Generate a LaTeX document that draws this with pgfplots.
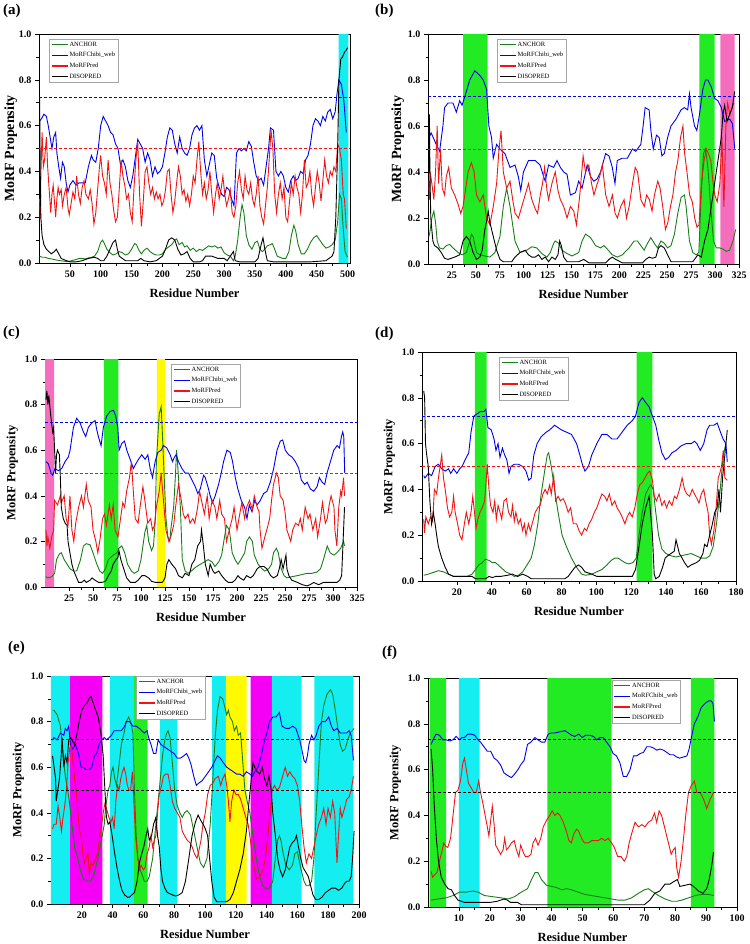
\documentclass[border=0pt]{standalone}
\usepackage{pgfplots}
\pgfplotsset{compat=1.18}
\usepackage{fontspec}
\setmainfont{Liberation Serif}
\definecolor{ancg}{RGB}{25,125,25}
\definecolor{mblue}{RGB}{0,0,240}
\definecolor{mred}{RGB}{240,20,20}
\definecolor{shcyan}{RGB}{20,238,240}
\definecolor{shgreen}{RGB}{35,235,35}
\definecolor{shpink}{RGB}{245,110,190}
\definecolor{shmag}{RGB}{245,0,245}
\definecolor{shyel}{RGB}{255,250,0}
\pgfplotsset{
  morf/.style={
    scale only axis, anchor=south west, ymin=0, ymax=1,
    ytick={0,0.2,0.4,0.6,0.8,1},
    minor y tick num=1, minor x tick num=1,
    tick align=outside, tick pos=left,
    major tick length=4pt, minor tick length=2.5pt,
    tick style={black, line width=0.6pt},
    axis line style={line width=0.8pt},
    ticklabel style={font=\bfseries\fontsize{10}{12}\selectfont},
    yticklabel style={/pgf/number format/.cd, fixed, fixed zerofill, precision=1},
    /pgf/number format/assume math mode=true,
    xlabel={Residue Number}, ylabel={MoRF Propensity},
    xlabel style={font=\bfseries\fontsize{12.5}{14}\selectfont, yshift=-5pt},
    ylabel style={font=\bfseries\fontsize{12.5}{14}\selectfont},
    every axis plot/.append style={line width=0.9pt},
    legend image code/.code={\draw[#1, line width=1.4pt] (0pt,0pt) -- (16pt,0pt);},
    legend style={anchor=north west, font=\fontsize{6.5}{7}\selectfont, draw=gray!70, line width=0.4pt,
      inner xsep=2pt, inner ysep=1.5pt, row sep=3pt, cells={anchor=west},
      nodes={inner sep=1pt, text height=4.5pt, text depth=1.2pt}},
  },
  shade/.style={fill=#1, draw=none, forget plot},
  thr/.style={draw=#1, dash pattern=on 3pt off 2pt, line width=0.9pt, forget plot},
}
\begin{document}
\begin{tikzpicture}
\useasboundingbox (0,0) rectangle (749pt,-944pt);
\node[anchor=north west, inner sep=0pt, font=\bfseries\fontsize{15}{15}\selectfont] at (3pt,-4pt) {(a)};
\node[anchor=north west, inner sep=0pt, font=\bfseries\fontsize{15}{15}\selectfont] at (375pt,-4pt) {(b)};
\node[anchor=north west, inner sep=0pt, font=\bfseries\fontsize{15}{15}\selectfont] at (3pt,-326pt) {(c)};
\node[anchor=north west, inner sep=0pt, font=\bfseries\fontsize{15}{15}\selectfont] at (375pt,-327pt) {(d)};
\node[anchor=north west, inner sep=0pt, font=\bfseries\fontsize{15}{15}\selectfont] at (8pt,-641pt) {(e)};
\node[anchor=north west, inner sep=0pt, font=\bfseries\fontsize{15}{15}\selectfont] at (382pt,-646pt) {(f)};

% ---------------- (a)
\begin{axis}[morf, at={(39pt,-263pt)}, width=311pt, height=229pt,
  xmin=0, xmax=504, xtick={50,100,...,500},
  ylabel style={font=\bfseries\fontsize{14}{16}\selectfont, yshift=-5pt},
  legend style={at={(0.032,0.978)}}]
\addplot[shade=shcyan] coordinates {(485.5,0)(485.5,1)(501.5,1)(501.5,0)} \closedcycle;
\addplot[ancg] coordinates {(1,0.03)(5,0.025)(10,0.025)(15,0.02)(20,0.018)(25,0.015)(30,0.012)(35,0.01)(40,0.008)(45,0.006)(50,0.008)(55,0.012)(60,0.015)(65,0.02)(70,0.02)(75,0.018)(80,0.022)(85,0.025)(90,0.03)(95,0.05)(100,0.09)(103,0.1)(106,0.085)(110,0.06)(115,0.045)(120,0.035)(125,0.04)(130,0.05)(135,0.045)(140,0.035)(145,0.04)(150,0.06)(155,0.085)(158,0.08)(162,0.055)(166,0.04)(170,0.055)(175,0.065)(180,0.05)(185,0.04)(190,0.035)(195,0.035)(200,0.04)(205,0.06)(210,0.07)(215,0.08)(220,0.1)(223,0.105)(227,0.08)(232,0.09)(236,0.07)(240,0.075)(245,0.055)(250,0.065)(255,0.05)(260,0.06)(265,0.055)(270,0.065)(275,0.075)(280,0.07)(285,0.075)(290,0.065)(295,0.07)(300,0.045)(305,0.035)(310,0.03)(315,0.01)(318,0.03)(322,0.1)(326,0.2)(329,0.255)(332,0.22)(336,0.12)(340,0.08)(345,0.06)(350,0.09)(354,0.095)(358,0.06)(362,0.05)(366,0.06)(370,0.075)(375,0.08)(378,0.085)(382,0.06)(386,0.03)(390,0.025)(395,0.02)(400,0.02)(405,0.05)(409,0.12)(413,0.165)(416,0.14)(420,0.08)(425,0.04)(430,0.04)(435,0.06)(440,0.09)(445,0.11)(450,0.12)(455,0.1)(460,0.08)(465,0.065)(470,0.07)(475,0.08)(480,0.1)(484,0.18)(487,0.3)(490,0.28)(493,0.15)(496,0.05)(500,0.025)};
\addplot[mblue] coordinates {(1,0.62)(4,0.63)(8,0.65)(12,0.64)(15,0.6)(18,0.55)(21,0.5)(24,0.55)(27,0.57)(29,0.48)(32,0.42)(35,0.37)(38,0.44)(41,0.42)(44,0.35)(47,0.31)(50,0.34)(55,0.36)(60,0.34)(65,0.35)(70,0.35)(75,0.35)(80,0.42)(85,0.47)(88,0.45)(92,0.44)(96,0.5)(100,0.6)(104,0.64)(108,0.62)(112,0.6)(116,0.57)(120,0.56)(124,0.52)(128,0.5)(132,0.43)(136,0.45)(140,0.42)(144,0.36)(148,0.33)(152,0.38)(156,0.46)(160,0.54)(164,0.52)(168,0.5)(172,0.44)(176,0.48)(180,0.45)(184,0.38)(188,0.42)(192,0.39)(196,0.4)(200,0.42)(204,0.48)(208,0.55)(212,0.59)(216,0.58)(220,0.52)(224,0.48)(228,0.55)(232,0.5)(236,0.48)(240,0.47)(244,0.5)(248,0.56)(252,0.59)(256,0.6)(260,0.58)(264,0.6)(268,0.45)(272,0.38)(276,0.43)(280,0.48)(284,0.47)(288,0.37)(292,0.33)(296,0.3)(300,0.29)(304,0.33)(308,0.32)(312,0.28)(316,0.25)(320,0.48)(324,0.5)(328,0.49)(332,0.5)(336,0.49)(340,0.53)(344,0.51)(348,0.44)(352,0.38)(356,0.36)(360,0.37)(364,0.34)(368,0.42)(372,0.5)(375,0.59)(380,0.58)(384,0.4)(388,0.38)(392,0.4)(396,0.38)(400,0.33)(404,0.31)(408,0.36)(412,0.38)(416,0.36)(420,0.37)(424,0.4)(428,0.39)(432,0.45)(436,0.47)(440,0.52)(444,0.6)(448,0.63)(452,0.62)(456,0.6)(460,0.64)(464,0.62)(468,0.66)(472,0.67)(476,0.63)(480,0.66)(483,0.74)(486,0.8)(490,0.78)(494,0.71)(498,0.57)};
\addplot[mred] coordinates {(1,0.28)(2,0.19)(3,0.38)(5,0.57)(7,0.42)(9,0.45)(12,0.55)(14,0.42)(17,0.3)(19,0.22)(21,0.3)(23,0.34)(25,0.27)(27,0.2)(29,0.28)(31,0.33)(33,0.3)(36,0.32)(38,0.25)(41,0.3)(44,0.33)(47,0.24)(49,0.21)(52,0.26)(55,0.31)(58,0.28)(61,0.38)(64,0.3)(67,0.26)(70,0.33)(73,0.36)(76,0.3)(80,0.28)(83,0.32)(86,0.26)(89,0.17)(92,0.22)(95,0.32)(98,0.42)(100,0.47)(103,0.38)(106,0.35)(109,0.3)(112,0.45)(115,0.35)(118,0.3)(121,0.23)(124,0.18)(127,0.2)(130,0.32)(133,0.45)(136,0.38)(139,0.34)(142,0.28)(145,0.3)(148,0.22)(151,0.18)(154,0.33)(157,0.45)(160,0.53)(163,0.3)(166,0.16)(169,0.27)(172,0.4)(175,0.42)(178,0.35)(181,0.3)(184,0.33)(187,0.28)(190,0.31)(193,0.28)(196,0.3)(199,0.25)(202,0.27)(205,0.32)(208,0.4)(211,0.41)(214,0.3)(217,0.22)(220,0.27)(223,0.35)(226,0.42)(229,0.38)(232,0.3)(235,0.32)(238,0.27)(241,0.3)(244,0.25)(247,0.3)(250,0.38)(253,0.35)(256,0.45)(259,0.53)(262,0.4)(265,0.3)(268,0.35)(271,0.28)(274,0.32)(277,0.4)(280,0.3)(283,0.22)(286,0.3)(289,0.35)(292,0.28)(295,0.32)(298,0.38)(301,0.3)(304,0.25)(307,0.28)(310,0.32)(313,0.22)(316,0.2)(319,0.25)(322,0.35)(325,0.4)(328,0.32)(331,0.28)(334,0.38)(337,0.32)(340,0.3)(343,0.35)(346,0.28)(349,0.25)(352,0.3)(355,0.38)(358,0.25)(361,0.2)(364,0.17)(367,0.25)(370,0.33)(373,0.45)(376,0.58)(379,0.5)(382,0.3)(385,0.22)(388,0.3)(391,0.35)(394,0.28)(397,0.33)(400,0.2)(403,0.18)(406,0.27)(409,0.35)(412,0.3)(415,0.38)(418,0.33)(421,0.3)(424,0.22)(427,0.3)(430,0.45)(433,0.33)(436,0.35)(439,0.4)(442,0.3)(445,0.25)(448,0.33)(451,0.4)(454,0.35)(457,0.27)(460,0.36)(463,0.45)(466,0.38)(469,0.35)(472,0.4)(475,0.38)(478,0.42)(481,0.4)(484,0.52)(487,0.5)(490,0.45)(493,0.3)(495,0.28)(498,0.15)};
\addplot[black] coordinates {(1,0.72)(2,0.4)(3,0.2)(5,0.12)(8,0.08)(12,0.06)(16,0.05)(20,0.04)(25,0.05)(28,0.06)(32,0.04)(36,0.02)(40,0.015)(45,0.01)(50,0.005)(60,0.005)(70,0.01)(80,0.02)(90,0.025)(95,0.02)(100,0.01)(105,0.01)(110,0.03)(115,0.06)(120,0.09)(124,0.1)(127,0.06)(130,0.03)(135,0.02)(140,0.01)(150,0.01)(160,0.01)(165,0.02)(170,0.01)(180,0.005)(190,0.01)(200,0.03)(205,0.06)(210,0.1)(215,0.11)(220,0.1)(225,0.06)(230,0.035)(235,0.04)(240,0.05)(245,0.02)(250,0.005)(260,0.005)(265,0.01)(270,0.03)(280,0.03)(290,0.02)(300,0.02)(305,0.01)(310,0.03)(315,0.05)(318,0.01)(325,0.005)(350,0.005)(355,0.02)(360,0.08)(363,0.11)(366,0.06)(370,0.01)(380,0.005)(400,0.005)(440,0.005)(465,0.01)(470,0.02)(475,0.03)(478,0.05)(481,0.2)(484,0.5)(486,0.8)(489,0.89)(492,0.9)(495,0.92)(498,0.93)(500,0.94)};
\addplot[thr=mblue] coordinates {(0,0.725)(504,0.725)};
\addplot[thr=mred] coordinates {(0,0.5)(504,0.5)};
\legend{ANCHOR,MoRFChibi\_web,MoRFPred,DISOPRED}
\end{axis}

% ---------------- (b)
\begin{axis}[morf, at={(428pt,-264pt)}, width=311pt, height=230pt,
  xmin=0, xmax=325, xtick={25,50,...,325},
  ylabel style={font=\bfseries\fontsize{14}{16}\selectfont, yshift=-3pt},
  legend style={at={(0.222,0.978)}}]
\addplot[shade=shgreen] coordinates {(36.6,0)(36.6,1)(62.3,1)(62.3,0)} \closedcycle;
\addplot[shade=shgreen] coordinates {(283.7,0)(283.7,1)(299.5,1)(299.5,0)} \closedcycle;
\addplot[shade=shpink] coordinates {(305.5,0)(305.5,1)(320.5,1)(320.5,0)} \closedcycle;
\addplot[ancg] coordinates {(1,0.12)(2,0.14)(4,0.2)(6.1,0.23)(7.9,0.18)(9.6,0.1)(12,0.07)(15.6,0.065)(19.1,0.08)(22.6,0.085)(26.1,0.07)(31.4,0.05)(35.6,0.04)(40.1,0.05)(43.6,0.1)(45.4,0.13)(47.1,0.12)(50.6,0.05)(54.2,0.04)(59.4,0.035)(64.7,0.03)(69.9,0.05)(75.2,0.12)(78.7,0.25)(82.2,0.33)(85.7,0.25)(90.9,0.1)(96.2,0.05)(103.2,0.06)(108.5,0.075)(113.7,0.07)(119,0.045)(124.3,0.03)(127.8,0.05)(131.3,0.09)(133,0.1)(136.5,0.09)(140,0.06)(145.3,0.045)(150.6,0.035)(157.5,0.05)(161,0.1)(164.6,0.13)(169.8,0.115)(175.1,0.08)(180.3,0.07)(183.8,0.08)(187.3,0.065)(192.6,0.04)(197.8,0.03)(203.1,0.04)(210.1,0.07)(215.4,0.1)(218.9,0.1)(222.4,0.08)(225.9,0.06)(229.4,0.09)(232.9,0.115)(236.4,0.09)(239.9,0.07)(243.4,0.1)(246.9,0.09)(250.4,0.07)(253.9,0.08)(257.5,0.13)(261,0.22)(264.5,0.29)(268,0.3)(269.7,0.25)(273.2,0.1)(276.7,0.05)(280.2,0.04)(283,0.05)(285.5,0.3)(287.9,0.48)(290,0.5)(292.5,0.42)(295.3,0.25)(298.4,0.1)(301.2,0.07)(304.7,0.07)(308.2,0.065)(311.7,0.055)(315.2,0.06)(318.7,0.1)(321.5,0.15)};
\addplot[mblue] coordinates {(1,0.55)(3.3,0.57)(8.6,0.52)(12.1,0.49)(15.6,0.6)(17.3,0.68)(20.9,0.7)(26.1,0.7)(29.6,0.66)(33.1,0.71)(35.6,0.69)(40.1,0.75)(43.6,0.8)(48.9,0.84)(54.1,0.82)(57.7,0.8)(61.2,0.76)(63.6,0.6)(66.4,0.55)(68.2,0.46)(71.7,0.52)(75.2,0.5)(80.4,0.48)(85.7,0.42)(90.9,0.43)(94.4,0.38)(96.9,0.32)(99.7,0.4)(105,0.45)(112,0.45)(117.2,0.43)(120.8,0.38)(122.5,0.36)(126,0.43)(131.3,0.42)(134.8,0.45)(138.3,0.42)(141.8,0.4)(145.3,0.39)(148.8,0.3)(154.1,0.31)(157.5,0.36)(161,0.33)(166.3,0.43)(169.8,0.38)(173.3,0.36)(176.8,0.37)(180.3,0.4)(185.6,0.48)(189.1,0.47)(192.6,0.42)(195.4,0.35)(197.8,0.45)(203.1,0.46)(208.4,0.46)(213.6,0.5)(217.1,0.49)(222.4,0.52)(224.8,0.6)(226.9,0.68)(231.1,0.67)(232.9,0.58)(235.4,0.5)(238.8,0.56)(241.6,0.55)(244.4,0.47)(246.9,0.48)(250.4,0.55)(253.9,0.6)(259.2,0.63)(264.4,0.67)(267.9,0.68)(271.4,0.67)(273.2,0.74)(274.9,0.68)(278.5,0.6)(280.9,0.58)(283.7,0.65)(287.2,0.76)(290,0.8)(292.5,0.8)(296,0.77)(299.5,0.72)(303,0.71)(306.5,0.68)(310,0.62)(315.3,0.63)(318.1,0.61)(320.6,0.5)};
\addplot[mred] coordinates {(1,0.36)(1.5,0.28)(2.3,0.4)(4,0.35)(6.1,0.28)(7.9,0.4)(9.6,0.6)(11,0.35)(13.1,0.5)(14.9,0.33)(17.3,0.3)(19.1,0.38)(21.6,0.42)(24.4,0.33)(27.9,0.3)(31.4,0.26)(34.2,0.22)(36.6,0.25)(38.4,0.3)(41.9,0.4)(45.4,0.44)(48.2,0.4)(50.7,0.3)(54.2,0.27)(57.7,0.3)(61.2,0.2)(64.7,0.17)(68.2,0.25)(71.7,0.35)(74.2,0.5)(76.3,0.58)(78.7,0.4)(82.2,0.33)(85.7,0.36)(88.5,0.28)(91,0.22)(94.5,0.2)(98,0.25)(101.5,0.3)(105,0.35)(108.5,0.28)(112,0.24)(114.5,0.22)(117.3,0.3)(119.7,0.35)(121.8,0.42)(124.3,0.32)(126,0.28)(129.5,0.35)(133,0.4)(135.8,0.32)(138.3,0.28)(141.8,0.25)(145.3,0.2)(148.8,0.25)(152.3,0.23)(155.1,0.17)(158.6,0.3)(162.1,0.47)(164.6,0.4)(168.1,0.43)(170.9,0.35)(173.4,0.3)(176.9,0.35)(179.4,0.38)(182.2,0.43)(185.7,0.3)(189.2,0.25)(192.7,0.3)(195.5,0.22)(197.9,0.2)(201.4,0.25)(204.9,0.28)(207.4,0.2)(210.2,0.25)(213.7,0.35)(216.5,0.42)(219,0.4)(222.5,0.28)(226,0.25)(228.5,0.3)(231.3,0.28)(234.1,0.23)(236.6,0.3)(240.1,0.36)(242.5,0.33)(245.3,0.25)(248.1,0.15)(250.6,0.18)(253.4,0.25)(255.9,0.3)(258.7,0.4)(261.1,0.45)(263.9,0.55)(266.4,0.6)(268.2,0.48)(270.6,0.4)(273.4,0.3)(276.2,0.27)(278.7,0.2)(281.1,0.16)(283.2,0.17)(285.7,0.35)(288.5,0.45)(290.9,0.5)(293,0.48)(295.5,0.45)(298,0.35)(299.7,0.3)(302.2,0.27)(305,0.35)(307.1,0.55)(309.2,0.25)(311.3,0.6)(313.1,0.7)(315.5,0.65)(317.6,0.68)(319.7,0.7)};
\addplot[black] coordinates {(1,0.4)(1.5,0.65)(2,0.4)(2.9,0.2)(4,0.15)(5.1,0.1)(6.8,0.08)(10.3,0.07)(13.8,0.05)(17.3,0.025)(20.9,0.02)(27.9,0.03)(33.1,0.04)(36.6,0.1)(40.1,0.12)(43.6,0.1)(47.1,0.05)(50.6,0.02)(54.2,0.03)(56.6,0.06)(59.4,0.15)(61.9,0.2)(62.9,0.23)(64.7,0.18)(68.2,0.12)(71.7,0.06)(75.2,0.02)(78.7,0.01)(87.5,0.01)(90.9,0.03)(96.2,0.05)(101.5,0.06)(105,0.04)(108.5,0.03)(112,0.03)(115.5,0.04)(119,0.02)(122.5,0.03)(126,0.01)(129.5,0.03)(133,0.02)(135.8,0.04)(137.6,0.1)(139.3,0.08)(141.8,0.03)(145.3,0.01)(157.5,0.01)(162.8,0.02)(168.1,0.005)(185.6,0.005)(189.1,0.02)(192.6,0.03)(196.1,0.02)(203.1,0.005)(224.1,0.005)(227.6,0.02)(231.1,0.03)(234.6,0.025)(238.1,0.03)(240.9,0.07)(243.4,0.08)(246.9,0.07)(250.4,0.04)(253.9,0.01)(276.7,0.01)(282,0.04)(285.5,0.03)(289,0.1)(292.5,0.15)(296,0.25)(299.5,0.35)(303,0.45)(306.5,0.55)(308.2,0.65)(310,0.69)(312.5,0.62)(315.2,0.65)(318,0.68)(320.4,0.75)};
\addplot[thr=mblue] coordinates {(0,0.73)(325,0.73)};
\addplot[thr=mred] coordinates {(0,0.5)(325,0.5)};
\legend{ANCHOR,MoRFChibi\_web,MoRFPred,DISOPRED}
\end{axis}

% ---------------- (c)
\begin{axis}[morf, at={(45pt,-587pt)}, width=312pt, height=228pt,
  xmin=0, xmax=325, xtick={25,50,...,325},
  legend style={at={(0.404,0.978)}}]
\addplot[shade=shpink] coordinates {(0,0)(0,1)(9.4,1)(9.4,0)} \closedcycle;
\addplot[shade=shgreen] coordinates {(61.2,0)(61.2,1)(76.5,1)(76.5,0)} \closedcycle;
\addplot[shade=shyel] coordinates {(116.5,0)(116.5,1)(125.2,1)(125.2,0)} \closedcycle;
\addplot[ancg] coordinates {(1,0.045)(3,0.04)(7,0.045)(10,0.06)(12,0.12)(15,0.145)(17,0.15)(20,0.12)(23,0.1)(26,0.08)(30,0.07)(33,0.07)(37,0.12)(40,0.18)(43,0.19)(47,0.185)(50,0.15)(54,0.1)(57,0.07)(60,0.06)(63,0.08)(66,0.12)(71,0.14)(75,0.15)(77,0.17)(80,0.18)(83,0.15)(86,0.1)(90,0.07)(93,0.06)(97,0.07)(100,0.12)(104,0.24)(106,0.27)(108,0.2)(111,0.16)(113,0.18)(115,0.3)(116,0.55)(119,0.76)(121,0.79)(122,0.7)(124,0.5)(126,0.3)(128,0.22)(130,0.2)(131,0.25)(134,0.35)(136,0.5)(137,0.6)(138,0.55)(141,0.35)(143,0.12)(146,0.07)(149,0.06)(151,0.065)(155,0.08)(158,0.09)(162,0.1)(166,0.11)(170,0.12)(174,0.11)(177,0.09)(181,0.11)(184,0.14)(187,0.22)(189,0.27)(192,0.25)(195,0.15)(198,0.12)(201,0.1)(204,0.12)(208,0.15)(210,0.2)(213,0.22)(216,0.2)(218,0.14)(222,0.1)(226,0.08)(229,0.07)(233,0.08)(236,0.1)(238,0.15)(241,0.17)(243,0.15)(246,0.08)(249,0.05)(252,0.04)(257,0.045)(263,0.05)(268,0.055)(273,0.06)(278,0.06)(283,0.065)(287,0.08)(290,0.12)(294,0.18)(297,0.15)(301,0.14)(304,0.15)(308,0.17)(311,0.2)(312,0.18)};
\addplot[mblue] coordinates {(1,0.55)(3.5,0.54)(6.3,0.5)(8,0.49)(10.4,0.52)(13.9,0.51)(17.4,0.52)(20.9,0.55)(24.3,0.57)(26.1,0.6)(29.6,0.7)(33,0.74)(36.5,0.72)(40,0.68)(42.4,0.66)(45.2,0.7)(48.7,0.72)(52.2,0.73)(53.9,0.69)(55.6,0.66)(58.4,0.62)(60.8,0.7)(64.3,0.75)(67.8,0.77)(71.3,0.775)(73.7,0.75)(75.8,0.7)(77.2,0.6)(80,0.63)(82.8,0.64)(85.2,0.6)(88.7,0.56)(92.1,0.52)(94.6,0.54)(97.4,0.56)(100.8,0.58)(104.3,0.56)(107.1,0.58)(109.5,0.52)(112,0.48)(114.7,0.55)(117.5,0.59)(121,0.6)(123.4,0.62)(126.9,0.61)(130.4,0.58)(132.8,0.55)(134.9,0.57)(136.6,0.58)(139.1,0.55)(142.6,0.52)(146,0.5)(149.5,0.5)(153,0.47)(156.5,0.44)(159.2,0.41)(161.7,0.43)(165.2,0.49)(166.9,0.48)(169.7,0.44)(172.1,0.4)(174.5,0.37)(177.3,0.4)(180.8,0.45)(183.6,0.5)(186,0.55)(189.5,0.6)(193,0.59)(195.4,0.55)(198.2,0.48)(200.9,0.43)(204.4,0.38)(207.9,0.35)(210.4,0.3)(212.8,0.36)(215.6,0.33)(218.4,0.38)(220.8,0.36)(224.3,0.38)(227.7,0.41)(231.2,0.42)(234.7,0.46)(238.2,0.52)(241.7,0.6)(245.1,0.64)(247.6,0.645)(250.3,0.6)(253.8,0.58)(257.3,0.57)(260.8,0.55)(264.3,0.52)(267,0.47)(270.5,0.45)(273,0.46)(276.4,0.43)(279.9,0.42)(283.4,0.44)(285.8,0.48)(288.6,0.46)(291.4,0.45)(293.8,0.5)(297.3,0.55)(300.8,0.6)(304.2,0.62)(306.7,0.61)(308.8,0.66)(310.1,0.68)(311.2,0.66)(312.2,0.5)};
\addplot[mred] coordinates {(1,0.25)(2,0.18)(3,0.22)(5,0.17)(7,0.22)(9,0.25)(10,0.38)(13,0.36)(16,0.4)(17,0.37)(20,0.4)(22,0.3)(24,0.27)(26,0.4)(28,0.25)(30,0.2)(32,0.28)(35,0.35)(38,0.4)(40,0.35)(43,0.45)(45,0.38)(48,0.35)(50,0.25)(53,0.2)(55,0.15)(57,0.2)(60,0.3)(62,0.32)(64,0.27)(67,0.36)(69,0.3)(71,0.36)(73,0.25)(76,0.22)(78,0.28)(81,0.37)(83,0.35)(85,0.42)(88,0.48)(90,0.55)(92,0.42)(94,0.3)(97,0.28)(99,0.35)(102,0.44)(104,0.38)(107,0.28)(110,0.3)(112,0.25)(114,0.27)(116,0.35)(119,0.42)(121,0.5)(123,0.4)(126,0.25)(129,0.2)(131,0.22)(134,0.27)(136,0.35)(139,0.45)(142,0.38)(144,0.32)(146,0.3)(149,0.32)(151,0.28)(154,0.3)(156,0.28)(159,0.35)(161,0.42)(163,0.38)(166,0.32)(169,0.4)(171,0.3)(174,0.38)(177,0.35)(179,0.3)(182,0.38)(184,0.32)(187,0.3)(189,0.2)(192,0.25)(195,0.3)(197,0.35)(200,0.25)(202,0.3)(205,0.37)(208,0.3)(210,0.35)(213,0.38)(216,0.34)(218,0.4)(221,0.35)(223,0.33)(224,0.25)(226,0.17)(229,0.22)(231,0.25)(234,0.3)(236,0.38)(238,0.45)(241,0.5)(243,0.48)(245,0.4)(248,0.38)(250,0.33)(252,0.25)(256,0.2)(258,0.25)(261,0.28)(264,0.27)(266,0.3)(268,0.25)(271,0.35)(274,0.3)(276,0.32)(279,0.25)(282,0.3)(284,0.22)(287,0.3)(289,0.37)(292,0.28)(294,0.3)(296,0.36)(298,0.4)(301,0.35)(302,0.25)(304,0.18)(306,0.35)(308,0.42)(309,0.4)(311,0.48)(312,0.4)};
\addplot[black] coordinates {(1,0.82)(2,0.86)(3,0.8)(4,0.84)(6,0.75)(8,0.68)(9,0.7)(10,0.6)(11,0.5)(12,0.58)(13,0.6)(15,0.58)(16,0.48)(17,0.35)(19,0.3)(21,0.28)(23,0.27)(24,0.2)(26,0.15)(28,0.1)(30,0.07)(32,0.05)(35,0.02)(38,0.02)(41,0.03)(43,0.02)(47,0.03)(49,0.04)(52,0.03)(56,0.02)(59,0.02)(63,0.025)(66,0.05)(69,0.07)(71,0.1)(74,0.12)(76,0.13)(77,0.16)(79,0.12)(82,0.08)(85,0.04)(89,0.02)(94,0.02)(97,0.03)(101,0.05)(104,0.05)(108,0.04)(111,0.025)(115,0.02)(122,0.02)(123,0.025)(125,0.04)(127,0.1)(129,0.12)(132,0.1)(136,0.08)(139,0.05)(143,0.04)(146,0.06)(150,0.05)(153,0.1)(156,0.12)(159,0.18)(162,0.2)(163,0.25)(165,0.18)(167,0.1)(170,0.05)(172,0.1)(175,0.07)(177,0.06)(181,0.07)(184,0.05)(188,0.03)(191,0.02)(195,0.02)(198,0.03)(201,0.05)(203,0.04)(207,0.03)(210,0.05)(214,0.04)(217,0.05)(221,0.08)(224,0.09)(228,0.09)(231,0.08)(235,0.05)(238,0.04)(242,0.05)(244,0.08)(246,0.12)(248,0.08)(250,0.12)(251,0.14)(252,0.08)(254,0.05)(257,0.03)(263,0.02)(268,0.01)(273,0.005)(276,0.01)(280,0.02)(285,0.01)(290,0.02)(299,0.02)(304,0.02)(307,0.03)(309,0.05)(310,0.15)(312,0.35)};
\addplot[thr=mblue] coordinates {(0,0.72)(325,0.72)};
\addplot[thr=mred] coordinates {(0,0.5)(325,0.5)};
\legend{ANCHOR,MoRFChibi\_web,MoRFPred,DISOPRED}
\end{axis}

% ---------------- (d)
\begin{axis}[morf, at={(422pt,-581pt)}, width=314pt, height=229pt,
  xmin=0, xmax=180, xtick={20,40,...,180},
  legend style={at={(0.245,0.978)}}]
\addplot[shade=shgreen] coordinates {(30.3,0)(30.3,1)(37,1)(37,0)} \closedcycle;
\addplot[shade=shgreen] coordinates {(123,0)(123,1)(132.1,1)(132.1,0)} \closedcycle;
\addplot[ancg] coordinates {(1,0.025)(3.6,0.03)(7.5,0.04)(9.4,0.045)(12.3,0.04)(15.2,0.03)(18.1,0.02)(22,0.02)(25.8,0.02)(28.7,0.03)(30.6,0.05)(32.5,0.07)(34.5,0.08)(36.4,0.095)(38.4,0.09)(40.3,0.08)(42.2,0.08)(45.1,0.06)(48,0.04)(51,0.03)(52.9,0.02)(55.2,0.025)(57.7,0.04)(60.2,0.07)(62.6,0.1)(64.5,0.16)(66.4,0.25)(68.3,0.38)(70.3,0.48)(71.8,0.55)(72.6,0.56)(74.1,0.5)(76,0.4)(78,0.3)(80.3,0.2)(82.8,0.15)(85.7,0.1)(88.6,0.06)(91.5,0.03)(93.8,0.025)(97.3,0.03)(100.2,0.04)(103.1,0.05)(106,0.07)(108.5,0.09)(110.5,0.1)(112.4,0.1)(114.3,0.09)(116.3,0.08)(118.6,0.075)(120.9,0.08)(122.8,0.1)(124.4,0.2)(126.3,0.3)(128.2,0.38)(130.2,0.41)(131.3,0.42)(132.5,0.4)(134,0.3)(135.6,0.2)(137.5,0.14)(139.8,0.12)(142.7,0.11)(145.6,0.105)(148.5,0.11)(151.4,0.115)(154.3,0.12)(157.2,0.11)(160.1,0.1)(163,0.1)(164.9,0.11)(166.9,0.15)(168.8,0.25)(170.7,0.38)(172.7,0.55)(174.2,0.6)};
\addplot[mblue] coordinates {(1,0.46)(1.7,0.45)(3.6,0.47)(5.5,0.46)(7.5,0.5)(9.4,0.51)(11.3,0.49)(13.3,0.48)(15.2,0.49)(16.5,0.47)(18.1,0.49)(20,0.47)(21.6,0.49)(22.9,0.5)(24.8,0.53)(26.8,0.56)(28.1,0.65)(29.7,0.72)(31.6,0.73)(33.5,0.74)(35.5,0.74)(36.6,0.75)(37.8,0.67)(39.7,0.66)(41.3,0.62)(42.4,0.57)(43.6,0.6)(44.7,0.54)(46.1,0.58)(47.4,0.55)(48.6,0.53)(49.9,0.47)(51,0.5)(52.9,0.51)(55.2,0.51)(57.7,0.5)(59.6,0.48)(61.2,0.44)(62.6,0.45)(64.1,0.55)(66,0.6)(68.3,0.63)(71.2,0.65)(73.2,0.66)(76,0.68)(78,0.67)(79.9,0.66)(82.8,0.65)(85.7,0.64)(88.6,0.6)(90.5,0.55)(91.9,0.51)(93.4,0.48)(95.4,0.5)(97.3,0.55)(100.2,0.6)(103.1,0.64)(106,0.64)(108.9,0.62)(111.8,0.62)(114.7,0.65)(117.6,0.68)(120.5,0.7)(122.4,0.72)(124.4,0.78)(126.3,0.8)(128.2,0.78)(130.2,0.76)(132.1,0.72)(134,0.68)(135.6,0.62)(137.5,0.56)(139.5,0.53)(141.4,0.54)(143.3,0.56)(145.6,0.57)(148.5,0.59)(151.4,0.6)(154.3,0.6)(156.2,0.61)(157.6,0.6)(159.5,0.57)(161.5,0.6)(163.4,0.66)(164.9,0.68)(167.3,0.68)(169.2,0.69)(171.1,0.65)(172.6,0.62)(174.2,0.6)(175,0.52)};
\addplot[mred] coordinates {(1,0.27)(1.4,0.21)(2.2,0.28)(3.6,0.25)(4.9,0.28)(6.1,0.26)(7.1,0.4)(8.4,0.38)(9.4,0.45)(10.4,0.5)(11.3,0.55)(12.3,0.45)(13.3,0.4)(14.6,0.32)(15.8,0.28)(17.1,0.3)(18.1,0.37)(19,0.3)(20.4,0.25)(21.6,0.2)(22.9,0.18)(24.3,0.25)(25.4,0.3)(26.8,0.25)(28.1,0.3)(29.1,0.37)(30.1,0.3)(31,0.23)(32,0.27)(33.2,0.3)(34.5,0.32)(35.9,0.35)(36.6,0.42)(37.4,0.51)(38.4,0.4)(39.3,0.33)(40.7,0.3)(41.7,0.35)(42.6,0.27)(43.6,0.33)(44.7,0.3)(45.7,0.27)(47,0.35)(48.4,0.36)(49.6,0.3)(51,0.28)(51.9,0.33)(52.9,0.26)(53.8,0.3)(55.2,0.25)(56.4,0.27)(57.7,0.22)(58.7,0.25)(59.6,0.2)(61,0.25)(62.1,0.22)(63.5,0.26)(64.9,0.3)(66.4,0.32)(67.7,0.33)(69.3,0.38)(70.6,0.4)(71.8,0.38)(73.2,0.42)(74.1,0.38)(75.5,0.46)(76.6,0.35)(78,0.37)(79.3,0.35)(80.9,0.36)(82.2,0.34)(83.8,0.3)(85.2,0.32)(86.7,0.25)(88.6,0.25)(90,0.22)(91.5,0.2)(93.1,0.23)(94.4,0.22)(95.8,0.25)(97.3,0.27)(98.8,0.3)(100.2,0.32)(101.6,0.35)(103.1,0.38)(104.7,0.37)(106,0.35)(107.4,0.38)(108.9,0.33)(110.5,0.35)(111.8,0.32)(113.4,0.3)(114.7,0.28)(116.3,0.25)(117.6,0.28)(119,0.3)(120.5,0.28)(122,0.32)(123.4,0.38)(124.8,0.42)(126.3,0.43)(127.8,0.45)(129.2,0.47)(130.6,0.48)(132.1,0.44)(133.2,0.37)(134.4,0.35)(135.9,0.38)(137.5,0.33)(138.9,0.35)(140.2,0.32)(141.7,0.35)(143.3,0.33)(144.7,0.37)(146,0.36)(147.6,0.4)(149.1,0.45)(150.5,0.4)(151.8,0.38)(153.4,0.37)(154.9,0.4)(156.2,0.38)(157.6,0.36)(158.8,0.34)(160.1,0.38)(161.5,0.4)(162.6,0.35)(164,0.3)(164.9,0.2)(165.9,0.16)(167.3,0.22)(168.4,0.3)(169.8,0.45)(170.7,0.47)(171.7,0.5)(172.7,0.57)(173.6,0.45)(175,0.44)};
\addplot[black] coordinates {(1,0.83)(1.5,0.8)(2,0.6)(2.7,0.55)(3.6,0.5)(4.5,0.35)(5.5,0.25)(6.5,0.3)(7.5,0.25)(8.4,0.2)(9.4,0.15)(11.3,0.1)(13.3,0.06)(15.2,0.03)(18.1,0.02)(22,0.02)(25.8,0.02)(28.7,0.02)(30.6,0.01)(33.5,0.01)(36.4,0.01)(38.4,0.02)(40.3,0.015)(42.2,0.02)(45.1,0.02)(49,0.025)(51.9,0.03)(54.8,0.02)(57.7,0.03)(60.6,0.02)(62.6,0.01)(68.3,0.01)(76,0.01)(81.9,0.01)(83.8,0.02)(85.7,0.04)(87.7,0.06)(89.6,0.07)(91.5,0.06)(93.4,0.04)(97.3,0.03)(100.2,0.02)(105,0.02)(110.8,0.02)(116.6,0.02)(120.5,0.02)(122.4,0.05)(124.4,0.15)(126.3,0.25)(128.2,0.32)(130.2,0.37)(132.1,0.2)(133.1,0.03)(134,0.01)(136,0.02)(137.9,0.06)(139.4,0.1)(140.8,0.11)(142.7,0.12)(144.6,0.13)(145.6,0.18)(146.6,0.15)(147.5,0.12)(149.1,0.1)(150.5,0.08)(152.4,0.06)(154.3,0.07)(157.2,0.08)(159.1,0.09)(161,0.12)(162,0.16)(163.4,0.15)(164.9,0.2)(166.5,0.25)(167.8,0.3)(169.2,0.32)(170.2,0.4)(171.1,0.3)(172.3,0.45)(173.6,0.55)(175,0.66)};
\addplot[thr=mblue] coordinates {(0,0.72)(180,0.72)};
\addplot[thr=mred] coordinates {(0,0.5)(180,0.5)};
\legend{ANCHOR,MoRFChibi\_web,MoRFPred,DISOPRED}
\end{axis}

% ---------------- (e)
\begin{axis}[morf, at={(51pt,-904pt)}, width=308pt, height=228pt,
  xmin=0, xmax=200, xtick={20,40,...,200},
  legend style={at={(0.276,1.0)}}]
\addplot[shade=shcyan] coordinates {(0,0)(0,1)(12.5,1)(12.5,0)} \closedcycle;
\addplot[shade=shmag] coordinates {(12.5,0)(12.5,1)(33.3,1)(33.3,0)} \closedcycle;
\addplot[shade=shcyan] coordinates {(38.2,0)(38.2,1)(53.8,1)(53.8,0)} \closedcycle;
\addplot[shade=shgreen] coordinates {(53.8,0)(53.8,1)(62.8,1)(62.8,0)} \closedcycle;
\addplot[shade=shcyan] coordinates {(70.7,0)(70.7,1)(82,1)(82,0)} \closedcycle;
\addplot[shade=shcyan] coordinates {(104.7,0)(104.7,1)(113.6,1)(113.6,0)} \closedcycle;
\addplot[shade=shyel] coordinates {(113.6,0)(113.6,1)(127,1)(127,0)} \closedcycle;
\addplot[shade=shmag] coordinates {(129.7,0)(129.7,1)(143.5,1)(143.5,0)} \closedcycle;
\addplot[shade=shcyan] coordinates {(143.5,0)(143.5,1)(162.7,1)(162.7,0)} \closedcycle;
\addplot[shade=shcyan] coordinates {(171,0)(171,1)(196.4,1)(196.4,0)} \closedcycle;
\addplot[ancg] coordinates {(1,0.85)(1.9,0.85)(4,0.83)(6.1,0.78)(7.2,0.7)(8.3,0.62)(9.3,0.56)(10.4,0.52)(11.9,0.45)(13.6,0.35)(15.3,0.25)(17.5,0.2)(19,0.15)(21.1,0.11)(23.2,0.1)(25.4,0.1)(27.5,0.12)(29.7,0.18)(31.8,0.25)(33.3,0.3)(34.6,0.35)(35.4,0.42)(37.1,0.5)(38.2,0.52)(39.3,0.58)(40.3,0.6)(41.4,0.55)(42.5,0.52)(44,0.6)(45.7,0.7)(47.4,0.75)(48.9,0.8)(50.4,0.82)(51.7,0.8)(53.2,0.75)(54.2,0.5)(55.3,0.3)(56.4,0.2)(57.9,0.15)(59.6,0.12)(60.6,0.1)(62.4,0.1)(63.8,0.12)(66,0.2)(68.1,0.35)(70.3,0.5)(72.4,0.65)(73.9,0.72)(75.2,0.75)(76,0.76)(77.3,0.73)(78.8,0.62)(80.3,0.5)(82,0.43)(83.7,0.4)(85.2,0.38)(86.7,0.4)(88.4,0.41)(90.6,0.39)(92.7,0.32)(94.8,0.25)(97,0.18)(99.1,0.16)(101.3,0.2)(103.4,0.35)(105.1,0.55)(106.6,0.73)(108.1,0.85)(109.8,0.91)(111.5,0.9)(113,0.86)(114.1,0.83)(115.2,0.85)(116.2,0.82)(117.9,0.8)(119,0.76)(120.5,0.78)(121.6,0.74)(123.1,0.75)(124.8,0.6)(125.9,0.5)(127.4,0.45)(129.1,0.4)(131.2,0.3)(133.3,0.2)(135.5,0.12)(137.6,0.08)(139.7,0.065)(141.9,0.07)(144,0.1)(145.7,0.2)(147.2,0.28)(148.3,0.3)(149.3,0.28)(150.8,0.22)(152.5,0.17)(154.7,0.15)(156.8,0.17)(158.3,0.22)(160,0.23)(161.5,0.18)(162.8,0.14)(164.3,0.1)(165.8,0.08)(167.5,0.08)(169.2,0.1)(170.7,0.2)(172.2,0.4)(173.9,0.6)(175.6,0.8)(177.1,0.87)(179.2,0.92)(181.4,0.94)(182.9,0.92)(184.6,0.85)(186.1,0.78)(187.8,0.7)(189.3,0.67)(191,0.68)(192.7,0.72)(194.2,0.75)(195.7,0.76)(196.8,0.77)};
\addplot[mblue] coordinates {(1,0.72)(1.9,0.73)(4,0.72)(6.1,0.75)(8.3,0.74)(9.3,0.77)(10.4,0.76)(11.5,0.78)(12.6,0.7)(14.1,0.68)(15.8,0.7)(17.9,0.66)(19.6,0.6)(21.1,0.6)(22.6,0.59)(24.7,0.59)(26.5,0.6)(28.2,0.65)(29.7,0.66)(31.2,0.7)(32.9,0.72)(34.6,0.73)(36,0.72)(37.8,0.73)(39.3,0.74)(41,0.76)(43.1,0.76)(45.7,0.76)(47.8,0.78)(48.9,0.8)(51,0.8)(53.2,0.78)(55.3,0.78)(57.4,0.77)(58.9,0.76)(60.6,0.75)(62.4,0.76)(63.4,0.73)(64.9,0.7)(66.6,0.66)(68.1,0.66)(69.6,0.72)(71.3,0.7)(73.4,0.69)(75.6,0.68)(77.7,0.67)(79.9,0.66)(82,0.64)(84.1,0.64)(86.3,0.65)(88,0.66)(89.5,0.64)(91,0.61)(92.7,0.56)(94.4,0.52)(95.9,0.53)(98,0.54)(100.2,0.56)(102.3,0.58)(104.4,0.6)(106.6,0.63)(108.1,0.65)(109.8,0.64)(111.9,0.62)(114.1,0.6)(116.2,0.59)(118.4,0.58)(120.5,0.57)(122.6,0.57)(124.8,0.56)(126.9,0.58)(129.1,0.57)(130.8,0.56)(132.3,0.58)(134.4,0.6)(136.5,0.65)(138.7,0.72)(140.2,0.75)(141.9,0.8)(144,0.82)(146.1,0.82)(148.3,0.84)(150,0.78)(152.5,0.77)(154.7,0.77)(156.8,0.78)(159,0.77)(160,0.75)(161.5,0.72)(162.8,0.68)(164.3,0.63)(165.4,0.62)(166.5,0.65)(167.5,0.7)(169.2,0.74)(170.7,0.72)(172.2,0.74)(173.9,0.78)(176,0.8)(178.2,0.8)(180.3,0.82)(182.1,0.78)(183.6,0.76)(185.7,0.77)(187.8,0.75)(190,0.75)(192.1,0.75)(193.6,0.76)(194.9,0.74)(196.4,0.63)};
\addplot[mred] coordinates {(1,0.33)(1.9,0.35)(3.4,0.35)(4.6,0.43)(5.7,0.38)(6.8,0.32)(7.8,0.38)(8.9,0.43)(10,0.5)(11.1,0.62)(12.1,0.68)(13.2,0.7)(14.3,0.62)(15.3,0.55)(16.4,0.5)(17.5,0.4)(18.5,0.32)(19.6,0.3)(20.7,0.22)(21.7,0.18)(22.8,0.2)(23.9,0.23)(24.9,0.13)(26,0.18)(27.1,0.17)(28.6,0.19)(30.1,0.22)(31.4,0.28)(32.9,0.35)(33.9,0.4)(35,0.44)(36,0.42)(37.6,0.38)(38.9,0.36)(40,0.38)(41,0.33)(42.1,0.45)(43.2,0.52)(44.2,0.5)(45.3,0.55)(46.4,0.58)(47.4,0.6)(48.5,0.57)(49.6,0.52)(50.6,0.5)(51.7,0.5)(52.8,0.58)(53.8,0.45)(54.9,0.3)(56.4,0.2)(57.5,0.15)(58.5,0.17)(60,0.15)(61.1,0.16)(62.4,0.22)(63.8,0.25)(64.9,0.3)(66,0.25)(67.1,0.28)(68.1,0.3)(69.2,0.4)(70.3,0.48)(71.8,0.52)(73,0.56)(74.5,0.57)(76,0.57)(77.3,0.52)(78.8,0.45)(80.3,0.42)(82,0.4)(83.7,0.38)(85.2,0.32)(86.7,0.3)(88.4,0.28)(90.1,0.27)(91.7,0.25)(93.2,0.22)(94.8,0.2)(95.9,0.23)(97.4,0.28)(98.7,0.35)(100.2,0.4)(101.7,0.48)(103.4,0.52)(105.1,0.53)(106.6,0.55)(108.7,0.56)(110.2,0.52)(111.5,0.55)(113,0.57)(114.1,0.52)(115.2,0.45)(116.2,0.36)(117.3,0.45)(118.8,0.5)(120.1,0.48)(121.6,0.48)(123.1,0.46)(124.8,0.42)(126.5,0.38)(128,0.35)(129.5,0.28)(130.8,0.2)(132.3,0.15)(133.4,0.11)(135.5,0.12)(137.6,0.15)(139.3,0.2)(140.8,0.3)(142.3,0.4)(143.6,0.5)(145.1,0.52)(146.6,0.5)(148.3,0.51)(150,0.55)(150.8,0.57)(152.1,0.6)(153.6,0.56)(155.1,0.58)(156.8,0.56)(158.3,0.55)(160,0.52)(161.5,0.45)(162.8,0.35)(164.3,0.25)(165.8,0.18)(167.5,0.22)(169.2,0.2)(170.7,0.25)(172.2,0.3)(173.9,0.35)(175.6,0.38)(177.1,0.42)(178.6,0.35)(179.9,0.42)(181.4,0.38)(182.9,0.45)(184.2,0.4)(185.7,0.18)(186.7,0.3)(187.8,0.42)(188.9,0.38)(190.6,0.42)(192.1,0.46)(193.6,0.47)(194.9,0.5)(196.4,0.56)};
\addplot[black] coordinates {(1,0.65)(2,0.6)(3,0.55)(3.4,0.45)(4.4,0.5)(5.5,0.55)(6.6,0.65)(7.2,0.73)(8.3,0.6)(9.3,0.65)(10.4,0.62)(11.5,0.72)(12.6,0.73)(13.6,0.72)(15.3,0.7)(17,0.75)(18.3,0.8)(20,0.85)(21.7,0.87)(23.2,0.88)(24.7,0.9)(26,0.91)(27.5,0.88)(29,0.85)(30.7,0.82)(32.4,0.75)(33.9,0.65)(35,0.5)(36,0.38)(37.1,0.35)(38.2,0.36)(39.7,0.3)(41.4,0.22)(43.1,0.15)(44.6,0.1)(46.1,0.06)(47.8,0.04)(49.6,0.03)(51,0.03)(52.5,0.04)(54.2,0.05)(55.9,0.1)(57.4,0.18)(58.9,0.22)(60.2,0.25)(61.7,0.3)(62.8,0.33)(63.8,0.28)(65.3,0.3)(66.6,0.35)(68.1,0.38)(69.2,0.3)(70.3,0.25)(71.4,0.15)(72.4,0.1)(73.9,0.07)(75.6,0.05)(77.3,0.045)(78.8,0.04)(81,0.035)(83.1,0.04)(85.2,0.05)(87.3,0.1)(89.5,0.2)(91.6,0.3)(93.8,0.36)(95.5,0.39)(97,0.37)(98.7,0.35)(100.2,0.33)(101.7,0.3)(103,0.2)(104.4,0.1)(105.9,0.03)(107.6,0.01)(110.8,0.01)(114.1,0.01)(116.2,0.02)(118.4,0.05)(120.5,0.1)(122.6,0.15)(124.8,0.22)(126.9,0.32)(128.6,0.45)(130.1,0.55)(131.2,0.62)(132.3,0.6)(133.8,0.58)(135.5,0.57)(137.2,0.6)(138.7,0.55)(140.2,0.52)(141.5,0.56)(143,0.5)(144,0.4)(145.7,0.3)(147.2,0.2)(148.7,0.15)(150.4,0.12)(152.1,0.15)(153.6,0.2)(155.1,0.25)(156.8,0.27)(158.3,0.28)(159.4,0.3)(160.7,0.25)(162.2,0.2)(163.7,0.16)(165.4,0.14)(167.1,0.12)(168.6,0.08)(170.1,0.04)(171.8,0.02)(173.9,0.02)(176,0.03)(178.2,0.05)(180.3,0.06)(182.4,0.07)(184.6,0.07)(186.7,0.06)(188.9,0.07)(190.6,0.09)(192.1,0.1)(193.6,0.1)(194.9,0.12)(195.8,0.2)(196.8,0.32)};
\addplot[thr=mblue] coordinates {(0,0.72)(200,0.72)};
\addplot[thr=black] coordinates {(0,0.5)(200,0.5)};
\legend{ANCHOR,MoRFChibi\_web,MoRFPred,DISOPRED}
\end{axis}

% ---------------- (f)
\begin{axis}[morf, at={(428pt,-907pt)}, width=309pt, height=229pt,
  xmin=0, xmax=100, xtick={10,20,...,100},
  legend style={at={(0.594,0.991)}}]
\addplot[shade=shgreen] coordinates {(0.5,0)(0.5,1)(5.9,1)(5.9,0)} \closedcycle;
\addplot[shade=shcyan] coordinates {(10,0)(10,1)(16.7,1)(16.7,0)} \closedcycle;
\addplot[shade=shgreen] coordinates {(38.6,0)(38.6,1)(59.4,1)(59.4,0)} \closedcycle;
\addplot[shade=shgreen] coordinates {(85.1,0)(85.1,1)(92.7,1)(92.7,0)} \closedcycle;
\addplot[ancg] coordinates {(1,0.03)(3.2,0.035)(5.9,0.04)(8.1,0.05)(10.2,0.065)(12.4,0.065)(14.5,0.07)(16.2,0.065)(18.3,0.05)(21,0.045)(23.7,0.04)(25.9,0.035)(28,0.045)(30.2,0.065)(32.2,0.08)(33.5,0.12)(34.6,0.15)(35.6,0.15)(36.7,0.12)(38.3,0.095)(40,0.09)(41.6,0.085)(43.2,0.075)(44.8,0.08)(46.5,0.075)(48.6,0.065)(50.8,0.055)(52.9,0.05)(55.1,0.045)(57.3,0.04)(59.4,0.035)(61.6,0.03)(63.8,0.03)(65.9,0.04)(68.1,0.06)(70,0.075)(71.3,0.08)(72.9,0.065)(74.6,0.05)(76.7,0.035)(78.9,0.025)(80.5,0.025)(82.1,0.03)(84.3,0.04)(86.5,0.05)(88.6,0.055)(90.8,0.055)(92.5,0.05)};
\addplot[mblue] coordinates {(1,0.71)(1.6,0.73)(2.6,0.755)(3.7,0.75)(4.8,0.73)(5.9,0.73)(7,0.725)(8.1,0.73)(9.1,0.745)(10.2,0.73)(11,0.74)(11.8,0.74)(12.9,0.755)(14,0.755)(15.1,0.75)(16.2,0.73)(17,0.72)(18.1,0.7)(19.2,0.68)(20.3,0.68)(21.4,0.65)(22.4,0.64)(23.5,0.62)(24.6,0.585)(25.7,0.575)(27,0.565)(28,0.58)(29.1,0.6)(30.2,0.625)(31.1,0.64)(32.2,0.71)(33.3,0.72)(34.6,0.74)(35.6,0.73)(36.7,0.72)(37.8,0.72)(38.9,0.755)(39.9,0.76)(41,0.76)(42.7,0.765)(44.3,0.77)(45.4,0.76)(46.5,0.75)(47.5,0.745)(48.8,0.755)(49.9,0.74)(51,0.75)(52.4,0.75)(53.5,0.745)(54.6,0.73)(55.6,0.74)(56.7,0.74)(57.8,0.72)(58.9,0.7)(59.9,0.67)(61,0.66)(62.1,0.63)(63.2,0.57)(64.3,0.57)(65.4,0.6)(66.5,0.66)(67.5,0.66)(68.6,0.67)(69.7,0.675)(70.8,0.7)(71.9,0.7)(72.9,0.695)(74,0.685)(75.1,0.69)(76.2,0.685)(77.3,0.675)(78.3,0.665)(79.4,0.665)(80.5,0.655)(81.4,0.65)(82.7,0.655)(83.8,0.66)(84.5,0.69)(85.4,0.75)(86.2,0.8)(87.3,0.83)(88.4,0.87)(89.7,0.89)(90.8,0.9)(91.6,0.9)(92.2,0.89)(92.7,0.81)};
\addplot[mred] coordinates {(1,0.155)(1.5,0.13)(2.1,0.14)(2.9,0.15)(3.7,0.2)(4.6,0.25)(5.1,0.28)(5.7,0.265)(6.4,0.26)(7.3,0.3)(8.1,0.4)(8.9,0.5)(9.7,0.51)(10.5,0.55)(11.3,0.63)(11.8,0.65)(12.4,0.6)(13.1,0.54)(14,0.52)(14.8,0.5)(15.6,0.5)(16.4,0.55)(17,0.5)(17.8,0.45)(18.5,0.4)(19.2,0.35)(19.7,0.31)(20.3,0.38)(20.8,0.44)(21.4,0.36)(21.9,0.27)(22.7,0.25)(23.5,0.23)(24.3,0.25)(24.8,0.3)(25.4,0.25)(26.1,0.26)(27,0.28)(27.9,0.29)(28.6,0.25)(29.4,0.22)(30,0.27)(30.8,0.24)(31.5,0.22)(32.4,0.22)(33.3,0.23)(34,0.28)(34.8,0.3)(35.6,0.27)(36.5,0.3)(37.3,0.35)(38.4,0.38)(39.4,0.4)(40.2,0.42)(41,0.4)(41.9,0.41)(42.7,0.4)(43.8,0.37)(44.8,0.33)(45.6,0.29)(46.4,0.28)(47.2,0.32)(48.1,0.34)(48.8,0.33)(49.7,0.3)(50.6,0.28)(51.9,0.28)(53,0.29)(54,0.29)(55.1,0.29)(56.2,0.3)(57.3,0.29)(58.3,0.3)(59.4,0.28)(60.3,0.26)(61.4,0.22)(62.5,0.22)(63.5,0.2)(64.3,0.22)(65.1,0.28)(65.9,0.32)(67,0.37)(68.1,0.35)(69.2,0.36)(70.2,0.35)(71.3,0.37)(72.4,0.38)(73.3,0.41)(74,0.37)(74.8,0.42)(75.6,0.4)(76.7,0.34)(77.8,0.28)(78.7,0.23)(79.4,0.25)(80,0.26)(80.5,0.17)(81.1,0.13)(81.9,0.2)(82.7,0.3)(83.4,0.4)(84.3,0.5)(85.2,0.53)(86.2,0.55)(87,0.5)(88.1,0.5)(89.2,0.47)(90.2,0.43)(91.3,0.47)(92.4,0.5)};
\addplot[black] coordinates {(1,0.69)(1.5,0.6)(2,0.45)(2.7,0.3)(3.4,0.2)(4.3,0.13)(5.4,0.1)(6.5,0.08)(7.6,0.075)(8.6,0.05)(9.7,0.03)(10.8,0.025)(11.8,0.02)(15,0.02)(17,0.02)(20,0.02)(22.4,0.025)(23.5,0.03)(24.6,0.035)(25.7,0.03)(26.7,0.02)(29,0.02)(30.2,0.01)(70,0.01)(71.8,0.03)(73.4,0.06)(75,0.07)(76.7,0.1)(78.3,0.1)(79.4,0.11)(80.7,0.12)(81.5,0.09)(83.2,0.095)(84.8,0.1)(85.9,0.09)(87.5,0.07)(89,0.06)(90.2,0.08)(91,0.12)(91.8,0.18)(92.4,0.24)};
\addplot[thr=black] coordinates {(0,0.73)(100,0.73)};
\addplot[thr=black] coordinates {(0,0.5)(100,0.5)};
\legend{ANCHOR,MoRFChibi\_web,MoRFPred,DISOPRED}
\end{axis}
\end{tikzpicture}
\end{document}
